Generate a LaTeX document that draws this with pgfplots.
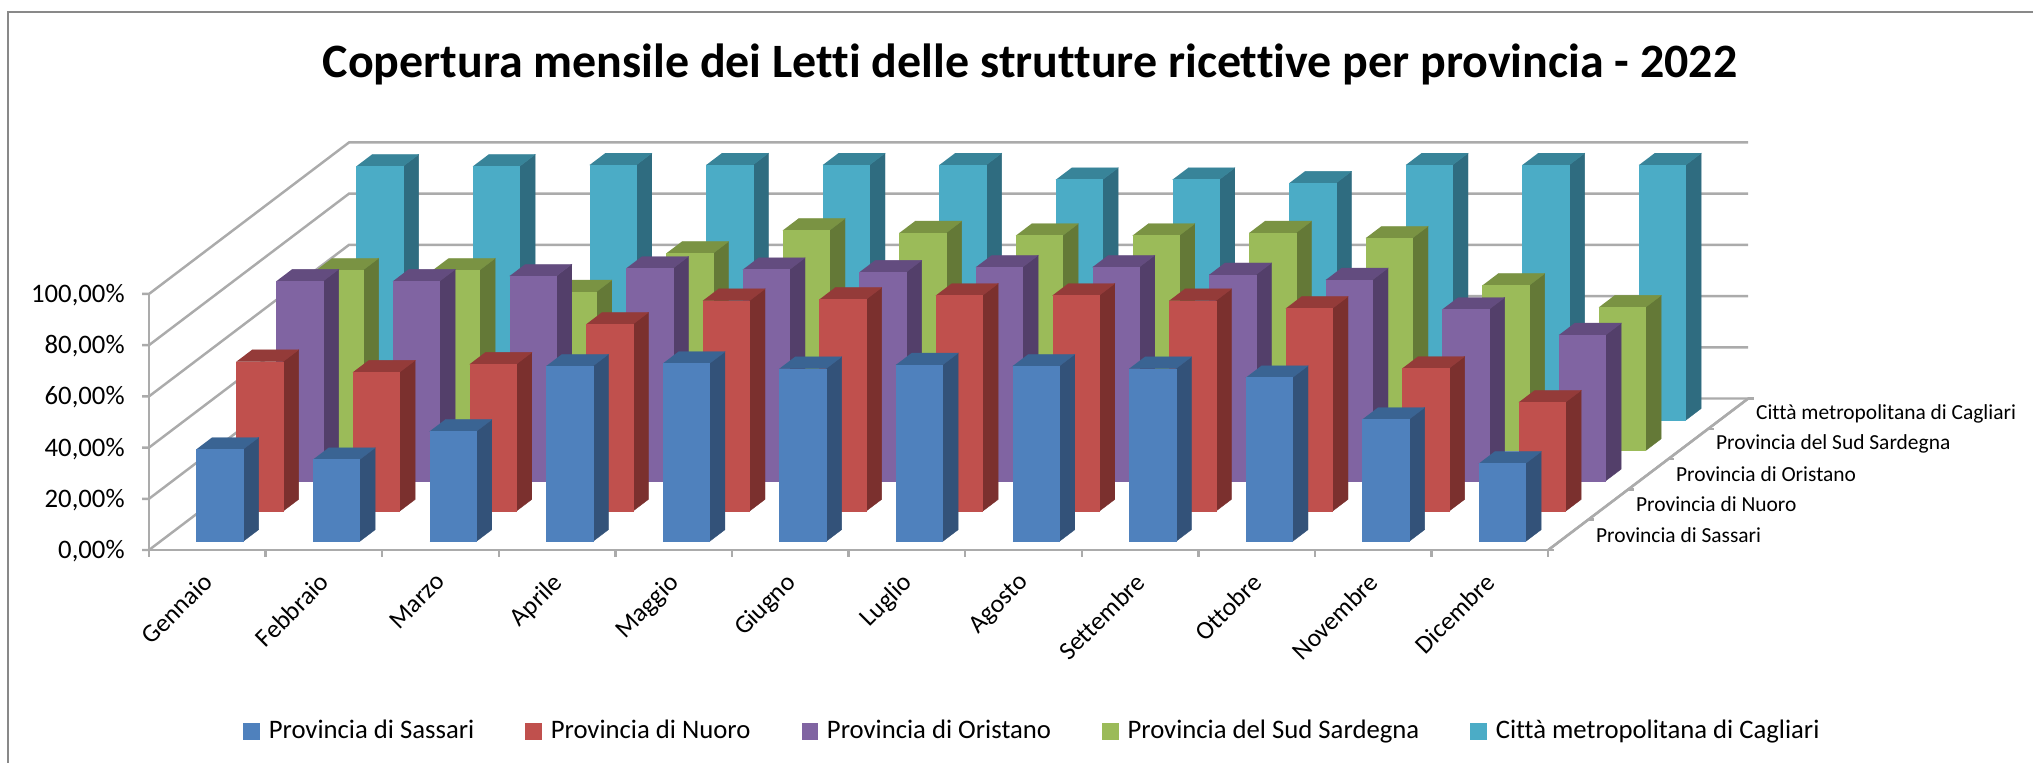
\documentclass[border=0pt]{standalone}
\usepackage{pgfplots}
\usepackage{pgfplotstable}
\usepackage{fontspec}
\pgfplotsset{compat=1.18}
\setmainfont[Ligatures=NoCommon]{Carlito}

% front, side, top colour of each series
\definecolor{f0}{HTML}{4F81BD}\definecolor{s0}{HTML}{335279}\definecolor{t0}{HTML}{3A6493}
\definecolor{f1}{HTML}{C0504D}\definecolor{s1}{HTML}{7B302E}\definecolor{t1}{HTML}{943B39}
\definecolor{f2}{HTML}{8064A2}\definecolor{s2}{HTML}{533F6A}\definecolor{t2}{HTML}{634C7F}
\definecolor{f3}{HTML}{9BBB59}\definecolor{s3}{HTML}{647937}\definecolor{t3}{HTML}{7A9343}
\definecolor{f4}{HTML}{4BACC6}\definecolor{s4}{HTML}{2F6C80}\definecolor{t4}{HTML}{388499}
\definecolor{griglia}{HTML}{ABABAB}

% coverage in percent, one row per month
\pgfplotstableread{
mese sassari nuoro oristano sud cagliari
Gennaio 36.0 58.4 78.0 70.5 99.2
Febbraio 32.0 54.3 78.0 70.5 99.2
Marzo 43.0 57.4 80.0 62.0 99.7
Aprile 68.5 73.0 83.0 77.0 99.7
Maggio 69.5 82.2 82.5 86.0 99.7
Giugno 67.5 82.7 81.5 85.0 99.7
Luglio 69.0 84.3 83.5 84.0 94.0
Agosto 68.5 84.3 83.5 84.0 94.0
Settembre 67.5 82.2 80.5 85.0 92.6
Ottobre 64.0 79.2 78.5 83.0 99.7
Novembre 47.7 55.8 67.0 64.5 99.7
Dicembre 30.5 42.6 57.0 56.0 99.7
}\datitable

\newcommand{\legendsq}[1]{\addlegendimage{legend image code/.code={\fill[#1] (0cm,-0.075cm) rectangle (0.15cm,0.075cm);\path (0.17cm,0cm);}}}

\begin{document}
\begin{tikzpicture}
\path[use as bounding box] (0,0) rectangle (20.33,7.63);
\draw[griglia!80!black,line width=0.8pt] (0.08,0) -- (0.08,7.51) -- (20.33,7.51);
\node[font=\bfseries\fontsize{13.64}{16}\selectfont] at (10.30,6.99) {Copertura mensile dei Letti delle strutture ricettive per provincia - 2022};
\begin{axis}[
    at={(1.49cm,2.13cm)}, anchor=origin,
    x={(1.166cm,0cm)}, y={(0.40cm,0.303cm)}, z={(0cm,0.0256cm)},
    xmin=0, xmax=12, ymin=0, ymax=5, zmin=0, zmax=100,
    axis x line*=bottom, axis y line*=left, axis z line*=left,
    axis line style={griglia,line width=0.7pt,-},
    clip=false,
    major tick length=0pt,
    xtick={0.5,1.5,...,11.5},
    xticklabels={Gennaio,Febbraio,Marzo,Aprile,Maggio,Giugno,Luglio,Agosto,Settembre,Ottobre,Novembre,Dicembre},
    x tick label style={xshift=-0.06cm,yshift=-0.04cm,rotate=45,anchor=north east,font=\fontsize{7.3}{9}\selectfont},
    ytick={0.5,1.5,...,4.5},
    yticklabels={Provincia di Sassari,Provincia di Nuoro,Provincia di Oristano,Provincia del Sud Sardegna,Città metropolitana di Cagliari},
    y tick label style={xshift=0.155cm,anchor=west,font=\fontsize{6.1}{8}\selectfont},
    ztick={0,20,...,100},
    zticklabels={{0,00\%},{20,00\%},{40,00\%},{60,00\%},{80,00\%},{100,00\%}},
    z tick label style={xshift=-0.12cm,yshift=-0.012cm,anchor=east,font=\fontsize{7.6}{9}\selectfont},
    legend columns=5,
    legend cell align=left,
    legend style={at={(0.554,-0.38)},anchor=north,draw=none,fill=none,font=\fontsize{7.6}{9}\selectfont,
        /tikz/every even column/.append style={column sep=0.44cm}},
]
\legendsq{f0}\addlegendentry{Provincia di Sassari}
\legendsq{f1}\addlegendentry{Provincia di Nuoro}
\legendsq{f2}\addlegendentry{Provincia di Oristano}
\legendsq{f3}\addlegendentry{Provincia del Sud Sardegna}
\legendsq{f4}\addlegendentry{Città metropolitana di Cagliari}

% walls: left and back gridlines, floor edges
\pgfplotsforeachungrouped \g in {0,20,...,100}{
    \edef\temp{\noexpand\addplot3[griglia,line width=0.7pt,forget plot] coordinates {(-0.06,0,\g) (0,0,\g) (0,5,\g) (12,5,\g)};}\temp
}
\addplot3[griglia,line width=0.7pt,forget plot] coordinates {(12,0,0) (12,5,0)};
% short tick marks
\pgfplotsforeachungrouped \t in {0,...,12}{
    \edef\temp{\noexpand\addplot3[griglia,line width=0.7pt,forget plot] coordinates {(\t,0,0) (\t,0,-2.7)};}\temp
}
\pgfplotsforeachungrouped \t in {0,...,5}{
    \edef\temp{\noexpand\addplot3[griglia,line width=0.7pt,forget plot] coordinates {(12,\t,0) (12.05,\t,0)};}\temp
}

% bars, back row first
\pgfplotsforeachungrouped \s in {4,3,2,1,0}{
  \pgfplotsforeachungrouped \m in {0,...,11}{
    \pgfmathtruncatemacro{\col}{\s+1}
    \pgfplotstablegetelem{\m}{[index]\col}\of\datitable
    \let\v\pgfplotsretval
    \pgfmathsetmacro{\xa}{\m+0.31}\pgfmathsetmacro{\xb}{\m+0.71}
    \pgfmathsetmacro{\ya}{\s+0.28}\pgfmathsetmacro{\yb}{\s+0.67}
    \edef\temp{%
      \noexpand\addplot3[draw=s\s,line width=0.1pt,fill=s\s,forget plot] coordinates {(\xb,\ya,0) (\xb,\yb,0) (\xb,\yb,\v) (\xb,\ya,\v)};
      \noexpand\addplot3[draw=t\s,line width=0.1pt,fill=t\s,forget plot] coordinates {(\xa,\ya,\v) (\xb,\ya,\v) (\xb,\yb,\v) (\xa,\yb,\v)};
      \noexpand\addplot3[draw=f\s,line width=0.1pt,fill=f\s,forget plot] coordinates {(\xa,\ya,0) (\xb,\ya,0) (\xb,\ya,\v) (\xa,\ya,\v)};
    }\temp
  }
}
\end{axis}
\end{tikzpicture}
\end{document}
